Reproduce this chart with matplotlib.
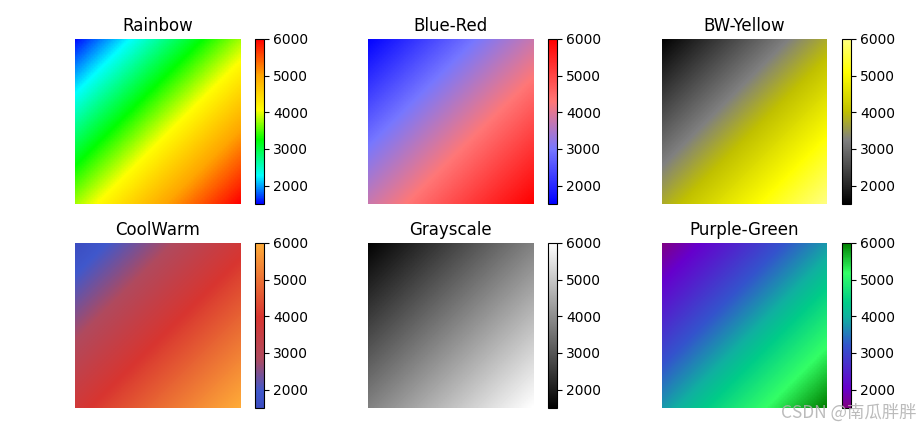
import numpy as np
import matplotlib
matplotlib.use("Agg")
import matplotlib.pyplot as plt
from matplotlib.colors import LinearSegmentedColormap

# field values at the four image corners (top-left, top-right / bottom-left, bottom-right)
corner_values = np.array([[1500, 3750],
                          [3750, 6000]])

titles = ["Rainbow", "Blue-Red", "BW-Yellow", "CoolWarm", "Grayscale", "Purple-Green"]

# colour stops for each panel (position, colour)
rainbow_stops = [(0.0, "blue"), (0.17, "cyan"), (0.39, "lime"), (0.57, "yellow"),
                 (0.78, "orange"), (1.0, "red")]
bluered_stops = [(0.0, "blue"), (0.33, "#7777ff"), (0.62, "#ff7777"), (1.0, "red")]
bwyellow_stops = [(0.0, "black"), (0.39, "gray"), (0.56, "#c0c000"), (0.8, "yellow"),
                  (1.0, "#ffff80")]
coolwarm_stops = [(0.0, "#3b4cc0"), (0.1, "#4058cc"), (0.3, "#b04a5e"),
                  (0.55, "#d83530"), (1.0, "#ffab38")]
gray_stops = [(0.0, "black"), (1.0, "white")]
purplegreen_stops = [(0.0, "#800080"), (0.12, "#6600cc"), (0.38, "#3355cc"),
                     (0.55, "#10b0a0"), (0.64, "#00cc88"), (0.82, "#33ff66"),
                     (1.0, "#008000")]

all_stops = [rainbow_stops, bluered_stops, bwyellow_stops,
             coolwarm_stops, gray_stops, purplegreen_stops]

W, H = 922, 425
fig = plt.figure(figsize=(W / 100, H / 100), dpi=100)

col_left = [75, 368, 662]
row_top = [39, 243]
size = 165
cbar_gap = 15
cbar_w = 8.5

vmin, vmax = corner_values.min(), corner_values.max()

for i, (title, stops) in enumerate(zip(titles, all_stops)):
    r, c = divmod(i, 3)
    left = col_left[c]
    top = row_top[r]
    ax = fig.add_axes([left / W, (H - top - size) / H, size / W, size / H])
    cax = fig.add_axes([(left + size + cbar_gap) / W, (H - top - size) / H,
                        cbar_w / W, size / H])

    cmap = LinearSegmentedColormap.from_list(title, stops, N=256)
    # pixel centres sit on the image corners, the library interpolates between them
    im = ax.imshow(corner_values, cmap=cmap, vmin=vmin, vmax=vmax,
                   interpolation="bilinear", interpolation_stage="data",
                   extent=(-0.5, 1.5, 1.5, -0.5))
    ax.set_xlim(0, 1)
    ax.set_ylim(1, 0)
    ax.set_aspect("auto")
    ax.axis("off")
    ax.set_title(title, fontsize=12)

    cb = fig.colorbar(im, cax=cax)
    cb.set_ticks([2000, 3000, 4000, 5000, 6000])
    cb.ax.tick_params(labelsize=10)

fig.text(781 / W, (H - 418) / H, "CSDN @南瓜胖胖", fontsize=12.5, color="#b0b0b0",
         alpha=0.85, family=["Noto Sans CJK SC", "DejaVu Sans"])

fig.savefig("out.png", dpi=100)
